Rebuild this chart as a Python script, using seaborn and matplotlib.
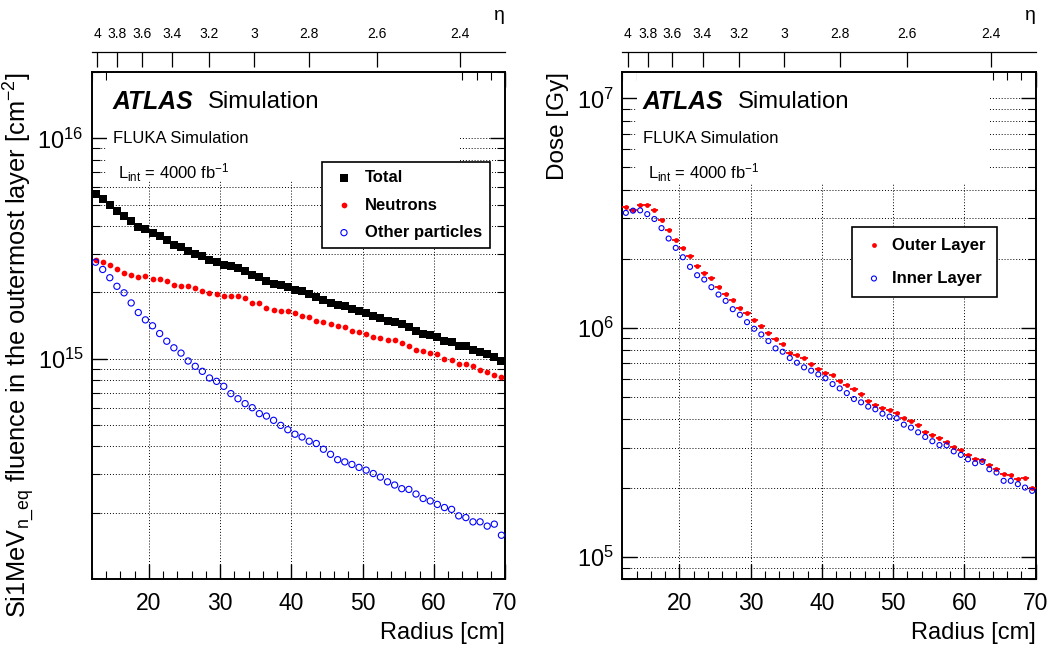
import numpy as np
import pandas as pd
import matplotlib
matplotlib.use('Agg')
import matplotlib.pyplot as plt
import matplotlib.ticker as mticker
from matplotlib.patches import Rectangle
import seaborn as sns

# Radius bin centres [cm]
radius = [12.5, 13.5, 14.5, 15.5, 16.5, 17.5, 18.5, 19.5, 20.5, 21.5,
          22.5, 23.5, 24.5, 25.5, 26.5, 27.5, 28.5, 29.5, 30.5, 31.5,
          32.5, 33.5, 34.5, 35.5, 36.5, 37.5, 38.5, 39.5, 40.5, 41.5,
          42.5, 43.5, 44.5, 45.5, 46.5, 47.5, 48.5, 49.5, 50.5, 51.5,
          52.5, 53.5, 54.5, 55.5, 56.5, 57.5, 58.5, 59.5, 60.5, 61.5,
          62.5, 63.5, 64.5, 65.5, 66.5, 67.5, 68.5, 69.5]

# Si 1 MeV neq fluence, units of 1e15 cm^-2
total_fluence = [5.60, 5.31, 5.00, 4.67, 4.43, 4.20, 3.95, 3.88, 3.71, 3.60,
                 3.44, 3.29, 3.21, 3.08, 2.99, 2.91, 2.79, 2.76, 2.65, 2.62,
                 2.57, 2.51, 2.39, 2.34, 2.24, 2.18, 2.16, 2.11, 2.06, 2.02,
                 1.97, 1.90, 1.84, 1.79, 1.76, 1.73, 1.68, 1.64, 1.61, 1.56,
                 1.53, 1.49, 1.47, 1.44, 1.39, 1.34, 1.30, 1.28, 1.26, 1.20,
                 1.19, 1.14, 1.14, 1.10, 1.07, 1.046, 1.017, 0.975]
neutron_fluence = [2.81, 2.74, 2.67, 2.56, 2.45, 2.40, 2.34, 2.37, 2.30, 2.29,
                   2.24, 2.16, 2.13, 2.14, 2.09, 2.03, 1.98, 1.97, 1.92, 1.92,
                   1.92, 1.88, 1.79, 1.78, 1.70, 1.66, 1.64, 1.64, 1.61, 1.56,
                   1.54, 1.49, 1.46, 1.43, 1.41, 1.39, 1.34, 1.32, 1.30, 1.26,
                   1.24, 1.22, 1.21, 1.18, 1.14, 1.10, 1.08, 1.06, 1.05, 1.00,
                   0.982, 0.949, 0.942, 0.926, 0.891, 0.870, 0.840, 0.823]
other_fluence = [2.74, 2.54, 2.33, 2.13, 1.99, 1.79, 1.62, 1.50, 1.41, 1.30,
                 1.20, 1.12, 1.06, 0.976, 0.923, 0.876, 0.817, 0.789, 0.749, 0.694,
                 0.658, 0.625, 0.599, 0.563, 0.549, 0.525, 0.498, 0.476, 0.454, 0.441,
                 0.422, 0.412, 0.388, 0.368, 0.348, 0.340, 0.331, 0.321, 0.312, 0.301,
                 0.290, 0.276, 0.267, 0.257, 0.255, 0.243, 0.232, 0.226, 0.218, 0.211,
                 0.207, 0.1934, 0.190, 0.1817, 0.1817, 0.1738, 0.1774, 0.158]

# Dose, units of 1e6 Gy
outer_dose = [3.35, 3.25, 3.43, 3.43, 3.27, 2.94, 2.66, 2.42, 2.23, 2.06,
              1.855, 1.735, 1.65, 1.508, 1.41, 1.328, 1.22, 1.154, 1.08, 1.017,
              0.944, 0.889, 0.852, 0.778, 0.763, 0.735, 0.692, 0.658, 0.633, 0.622,
              0.586, 0.563, 0.539, 0.5125, 0.479, 0.462, 0.448, 0.4365, 0.425, 0.404,
              0.3935, 0.378, 0.351, 0.341, 0.331, 0.318, 0.301, 0.293, 0.278, 0.269,
              0.265, 0.252, 0.243, 0.231, 0.228, 0.2186, 0.2208, 0.2003]
inner_dose = [3.17, 3.24, 3.25, 3.13, 2.98, 2.72, 2.45, 2.23, 2.03, 1.843,
              1.695, 1.623, 1.503, 1.396, 1.31, 1.205, 1.139, 1.058, 0.99, 0.935,
              0.875, 0.813, 0.786, 0.738, 0.704, 0.672, 0.650, 0.626, 0.602, 0.568,
              0.544, 0.519, 0.489, 0.473, 0.453, 0.441, 0.422, 0.4097, 0.403, 0.378,
              0.3668, 0.350, 0.334, 0.320, 0.308, 0.307, 0.289, 0.279, 0.267, 0.2566,
              0.260, 0.2416, 0.2337, 0.215, 0.215, 0.208, 0.201, 0.1944]

# eta axis ticks and the z position used for the radius <-> eta conversion
eta_ticks = [4.0, 3.8, 3.6, 3.4, 3.2, 3.0, 2.8, 2.6, 2.4]
eta_labels = ['4', '3.8', '3.6', '3.4', '3.2', '3', '2.8', '2.6', '2.4']
z_pos = 348.0  # cm

left_yticks = [1e15, 1e16]
right_yticks = [1e5, 1e6, 1e7]

fluence = pd.DataFrame({
    'radius': radius,
    'Total': np.array(total_fluence) * 1e15,
    'Neutrons': np.array(neutron_fluence) * 1e15,
    'Other particles': np.array(other_fluence) * 1e15,
})
dose = pd.DataFrame({
    'radius': radius,
    'Outer Layer': np.array(outer_dose) * 1e6,
    'Inner Layer': np.array(inner_dose) * 1e6,
})

sns.set_style('ticks')
plt.rcParams['font.family'] = ['Liberation Sans', 'DejaVu Sans']
plt.rcParams['mathtext.fontset'] = 'custom'
plt.rcParams['mathtext.rm'] = 'Liberation Sans'
plt.rcParams['mathtext.it'] = 'Liberation Sans:italic'
plt.rcParams['mathtext.bf'] = 'Liberation Sans:bold'
for key in ('text.color', 'axes.labelcolor', 'xtick.color', 'ytick.color',
            'axes.edgecolor'):
    plt.rcParams[key] = 'black'

W, H = 1053, 655
fig = plt.figure(figsize=(W / 100, H / 100), dpi=100)
ax1 = fig.add_axes([92 / W, 1 - 579 / H, 413 / W, 507 / H])
ax2 = fig.add_axes([622.3 / W, 1 - 579.3 / H, 413.4 / W, 507 / H])


def r_to_eta(r):
    r = np.asarray(r, dtype=float)
    with np.errstate(divide='ignore', invalid='ignore'):
        return np.arcsinh(z_pos / r)


def eta_to_r(eta):
    eta = np.asarray(eta, dtype=float)
    with np.errstate(divide='ignore', invalid='ignore'):
        return z_pos / np.sinh(eta)


def style_axes(ax, ylim, yticks, ylabel, ylabel_size, box):
    ax.set_xlim(12, 70)
    ax.set_yscale('log')
    ax.set_ylim(*ylim)
    ax.xaxis.set_major_locator(mticker.MultipleLocator(10))
    ax.xaxis.set_minor_locator(mticker.MultipleLocator(2))
    ax.yaxis.set_major_locator(mticker.FixedLocator(yticks))
    ax.yaxis.set_major_formatter(mticker.LogFormatterSciNotation())
    ax.yaxis.set_minor_locator(mticker.LogLocator(base=10, subs=np.arange(2, 10), numticks=30))
    ax.yaxis.set_minor_formatter(mticker.NullFormatter())
    ax.tick_params(which='both', direction='in', top=True, right=True, width=1)
    ax.tick_params(which='major', length=11)
    ax.tick_params(which='minor', length=5.5, width=0.8)
    ax.tick_params(axis='x', labelsize=16.5, pad=9)
    ax.tick_params(axis='y', labelsize=17, pad=6)
    for sp in ax.spines.values():
        sp.set_linewidth(1.4)
        sp.set_visible(True)

    # ROOT-like dotted grid (major x, major + minor y)
    for xv in [20, 30, 40, 50, 60]:
        ax.axvline(xv, color='black', lw=0.7, ls=(0, (1, 2)), zorder=0.6)
    lo, hi = ylim
    for e in range(int(np.floor(np.log10(lo))), int(np.ceil(np.log10(hi))) + 1):
        for m in range(1, 10):
            v = m * 10.0 ** e
            if lo < v < hi:
                ax.axhline(v, color='black', lw=0.7, ls=(0, (1, 2)), zorder=0.6)

    # white pave behind the labels
    ax.add_patch(Rectangle((box[0], box[1]), box[2] - box[0], 1 - box[1],
                           transform=ax.transAxes, facecolor='white',
                           edgecolor='none', zorder=0.8))

    ax.set_xlabel('Radius [cm]', fontsize=17, loc='right')
    ax.xaxis.set_label_coords(1.0, -0.085)
    ax.set_ylabel(ylabel, fontsize=ylabel_size, loc='top')
    ax.yaxis.set_label_coords(-0.13, 1.0)

    sec = ax.secondary_xaxis(1 + 20 / 507, functions=(r_to_eta, eta_to_r))
    sec.set_ticks(eta_ticks, labels=eta_labels)
    sec.xaxis.set_minor_locator(mticker.NullLocator())
    sec.tick_params(axis='x', which='major', direction='in', length=11,
                    width=0.9, labelsize=10, pad=8)
    sec.spines['top'].set_linewidth(0.9)
    sec.set_xlabel('η', loc='right', fontsize=14, labelpad=5)


# ---- left panel: fluence ----
sns.scatterplot(data=fluence, x='radius', y='Total', marker='s', s=26,
                color='black', edgecolor='black', linewidth=0, label='Total',
                ax=ax1, zorder=3)
sns.scatterplot(data=fluence, x='radius', y='Neutrons', marker='o', s=17,
                color='red', edgecolor='red', linewidth=0, label='Neutrons',
                ax=ax1, zorder=3)
sns.scatterplot(data=fluence, x='radius', y='Other particles', marker='o', s=20,
                facecolors='none', edgecolor='blue', linewidth=0.8,
                label='Other particles', ax=ax1, zorder=4)

style_axes(ax1, (1e14, 2e16), left_yticks,
           r'Si1MeV$_{\mathrm{n\_eq}}$ fluence in the outermost layer [cm$^{-2}$]', 18.3,
           ((107 - 92) / 413, (579 - 180) / 507, (460 - 92) / 413))

leg1 = ax1.legend(loc='upper left', bbox_to_anchor=((322.3 - 92) / 413, (579 - 161.7) / 507),
                  borderaxespad=0, frameon=True, fancybox=False, framealpha=1,
                  edgecolor='black', prop={'weight': 'bold', 'size': 12},
                  handlelength=1.6, handletextpad=0.45, labelspacing=0.75, borderpad=0.5)
leg1.get_frame().set_linewidth(1.2)

# ---- right panel: dose ----
ax2.errorbar(dose['radius'], dose['Outer Layer'], xerr=0.5, fmt='none',
             ecolor='red', elinewidth=1.3, capsize=0, zorder=3)
sns.scatterplot(data=dose, x='radius', y='Outer Layer', marker='o', s=12,
                color='red', edgecolor='red', linewidth=0, label='Outer Layer',
                ax=ax2, zorder=3)
sns.scatterplot(data=dose, x='radius', y='Inner Layer', marker='o', s=13,
                facecolors='none', edgecolor='blue', linewidth=0.8,
                label='Inner Layer', ax=ax2, zorder=4)

style_axes(ax2, (8e4, 1.3e7), right_yticks, 'Dose [Gy]', 17.5,
           ((637 - 622.3) / 413.4, (579.3 - 184) / 507, (990 - 622.3) / 413.4))

leg2 = ax2.legend(loc='upper left', bbox_to_anchor=((852.3 - 622.3) / 413.4, (579.3 - 226.7) / 507),
                  borderaxespad=0, frameon=True, fancybox=False, framealpha=1,
                  edgecolor='black', prop={'weight': 'bold', 'size': 12},
                  handlelength=1.3, handletextpad=0.45, labelspacing=1.1, borderpad=0.65)
leg2.get_frame().set_linewidth(1.2)

# ---- ATLAS labels ----
for x0 in (113, 643):
    fig.text(x0 / W, 1 - 101.7 / H, 'ATLAS', fontsize=17.8, fontweight='bold',
             fontstyle='italic', ha='left', va='center')
    fig.text((x0 + 94.7) / W, 1 - 101.7 / H, 'Simulation', fontsize=17.2,
             ha='left', va='center')
    fig.text((x0 - 0.3) / W, 1 - 138.7 / H, 'FLUKA Simulation', fontsize=12,
             ha='left', va='center')
    fig.text((x0 + 4.7) / W, 1 - 173 / H, r'L$_{\mathrm{int}}$ = 4000 fb$^{-1}$',
             fontsize=12, ha='left', va='center')

fig.savefig('out.png', dpi=100)
